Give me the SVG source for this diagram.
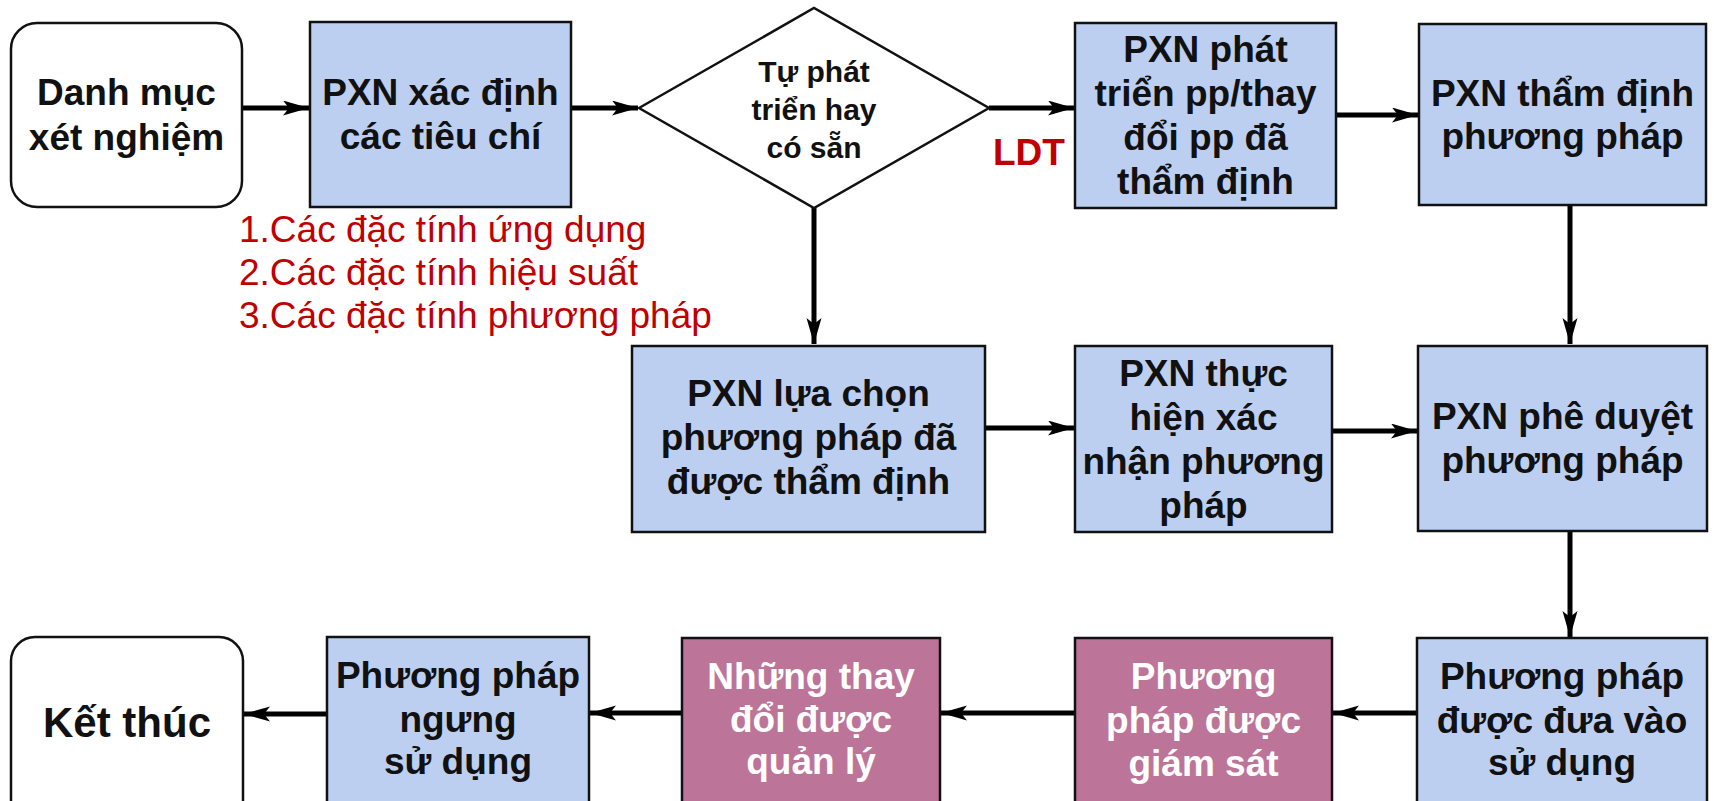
<svg xmlns="http://www.w3.org/2000/svg" width="1714" height="801" viewBox="0 0 1714 801">
<defs>
<style>
.box{fill:#BCCFF1;stroke:#111;stroke-width:2.5}
.pur{fill:#BD7499;stroke:#111;stroke-width:2.5}
.term{fill:#fff;stroke:#111;stroke-width:2.5}
.t{font-family:"Liberation Sans",Arial,sans-serif;font-weight:bold;font-size:37px;fill:#111;text-anchor:middle}
.w{fill:#fff}
.d{font-size:30px}
.red{font-family:"Liberation Sans",Arial,sans-serif;font-size:37px;fill:#C00000}
.c{fill:none;stroke:#000;stroke-width:5}
</style>
<marker id="ah" markerUnits="userSpaceOnUse" markerWidth="28" markerHeight="16" refX="26" refY="7.5" orient="auto">
<path d="M0,0 L26,7.5 L0,15 L6,7.5 Z" fill="#000"/>
</marker>
</defs>
<rect width="1714" height="801" fill="#fff"/>

<g id="connectors">
<line class="c" x1="242" y1="108" x2="309" y2="108" marker-end="url(#ah)"/>
<line class="c" x1="571" y1="108" x2="638" y2="108" marker-end="url(#ah)"/>
<line class="c" x1="989" y1="108" x2="1074" y2="108" marker-end="url(#ah)"/>
<line class="c" x1="1336" y1="115" x2="1418" y2="115" marker-end="url(#ah)"/>
<line class="c" x1="1570" y1="205" x2="1570" y2="344" marker-end="url(#ah)"/>
<line class="c" x1="814" y1="208" x2="814" y2="344" marker-end="url(#ah)"/>
<line class="c" x1="985" y1="428" x2="1074" y2="428" marker-end="url(#ah)"/>
<line class="c" x1="1332" y1="431" x2="1417" y2="431" marker-end="url(#ah)"/>
<line class="c" x1="1570" y1="531" x2="1570" y2="637" marker-end="url(#ah)"/>
<line class="c" x1="1417" y1="713" x2="1333" y2="713" marker-end="url(#ah)"/>
<line class="c" x1="1075" y1="713" x2="941" y2="713" marker-end="url(#ah)"/>
<line class="c" x1="682" y1="713" x2="590" y2="713" marker-end="url(#ah)"/>
<line class="c" x1="327" y1="714" x2="244" y2="714" marker-end="url(#ah)"/>
</g>

<g id="n-start">
<rect class="term" x="11" y="23" width="231" height="184" rx="26"/>
<text class="t" x="126.5" y="105">Danh mục</text>
<text class="t" x="126.5" y="150">xét nghiệm</text>
</g>

<g id="n-criteria">
<rect class="box" x="310" y="22" width="261" height="185"/>
<text class="t" x="440.5" y="105">PXN xác định</text>
<text class="t" x="440.5" y="149">các tiêu chí</text>
</g>

<g id="criteria-list">
<text class="red" x="239" y="242">1.Các đặc tính ứng dụng</text>
<text class="red" x="239" y="285">2.Các đặc tính hiệu suất</text>
<text class="red" x="239" y="328">3.Các đặc tính phương pháp</text>
</g>

<g id="n-decision">
<polygon points="639,108 814,8 989,108 814,208" fill="#fff" stroke="#111" stroke-width="2.5"/>
<text class="t d" x="814" y="82">Tự phát</text>
<text class="t d" x="814" y="120">triển hay</text>
<text class="t d" x="814" y="158">có sẵn</text>
</g>

<g id="ldt-label">
<text class="t" x="993" y="165" style="text-anchor:start;fill:#C00000">LDT</text>
</g>

<g id="n-develop">
<rect class="box" x="1075" y="23" width="261" height="185"/>
<text class="t" x="1205.5" y="62">PXN phát</text>
<text class="t" x="1205.5" y="106">triển pp/thay</text>
<text class="t" x="1205.5" y="150">đổi pp đã</text>
<text class="t" x="1205.5" y="194">thẩm định</text>
</g>

<g id="n-validate">
<rect class="box" x="1419" y="24" width="287" height="181"/>
<text class="t" x="1562.5" y="106">PXN thẩm định</text>
<text class="t" x="1562.5" y="149">phương pháp</text>
</g>

<g id="n-select">
<rect class="box" x="632" y="346" width="353" height="186"/>
<text class="t" x="808.5" y="406">PXN lựa chọn</text>
<text class="t" x="808.5" y="450">phương pháp đã</text>
<text class="t" x="808.5" y="494">được thẩm định</text>
</g>

<g id="n-verify">
<rect class="box" x="1075" y="346" width="257" height="186"/>
<text class="t" x="1203.5" y="386">PXN thực</text>
<text class="t" x="1203.5" y="430">hiện xác</text>
<text class="t" x="1203.5" y="474">nhận phương</text>
<text class="t" x="1203.5" y="518">pháp</text>
</g>

<g id="n-approve">
<rect class="box" x="1418" y="346" width="289" height="185"/>
<text class="t" x="1562.5" y="429">PXN phê duyệt</text>
<text class="t" x="1562.5" y="473">phương pháp</text>
</g>

<g id="n-inuse">
<rect class="box" x="1417" y="638" width="290" height="200"/>
<text class="t" x="1562" y="689">Phương pháp</text>
<text class="t" x="1562" y="733">được đưa vào</text>
<text class="t" x="1562" y="775">sử dụng</text>
</g>

<g id="n-monitor">
<rect class="pur" x="1075" y="638" width="257" height="200"/>
<text class="t w" x="1203.5" y="689">Phương</text>
<text class="t w" x="1203.5" y="733">pháp được</text>
<text class="t w" x="1203.5" y="776">giám sát</text>
</g>

<g id="n-changes">
<rect class="pur" x="682" y="638" width="258" height="200"/>
<text class="t w" x="811" y="689">Những thay</text>
<text class="t w" x="811" y="732">đổi được</text>
<text class="t w" x="811" y="774">quản lý</text>
</g>

<g id="n-retire">
<rect class="box" x="327" y="637" width="262" height="200"/>
<text class="t" x="458" y="688">Phương pháp</text>
<text class="t" x="458" y="732">ngưng</text>
<text class="t" x="458" y="774">sử dụng</text>
</g>

<g id="n-end">
<rect class="term" x="11" y="637" width="232" height="200" rx="24"/>
<text class="t" x="127" y="737" style="font-size:42px">Kết thúc</text>
</g>
</svg>
